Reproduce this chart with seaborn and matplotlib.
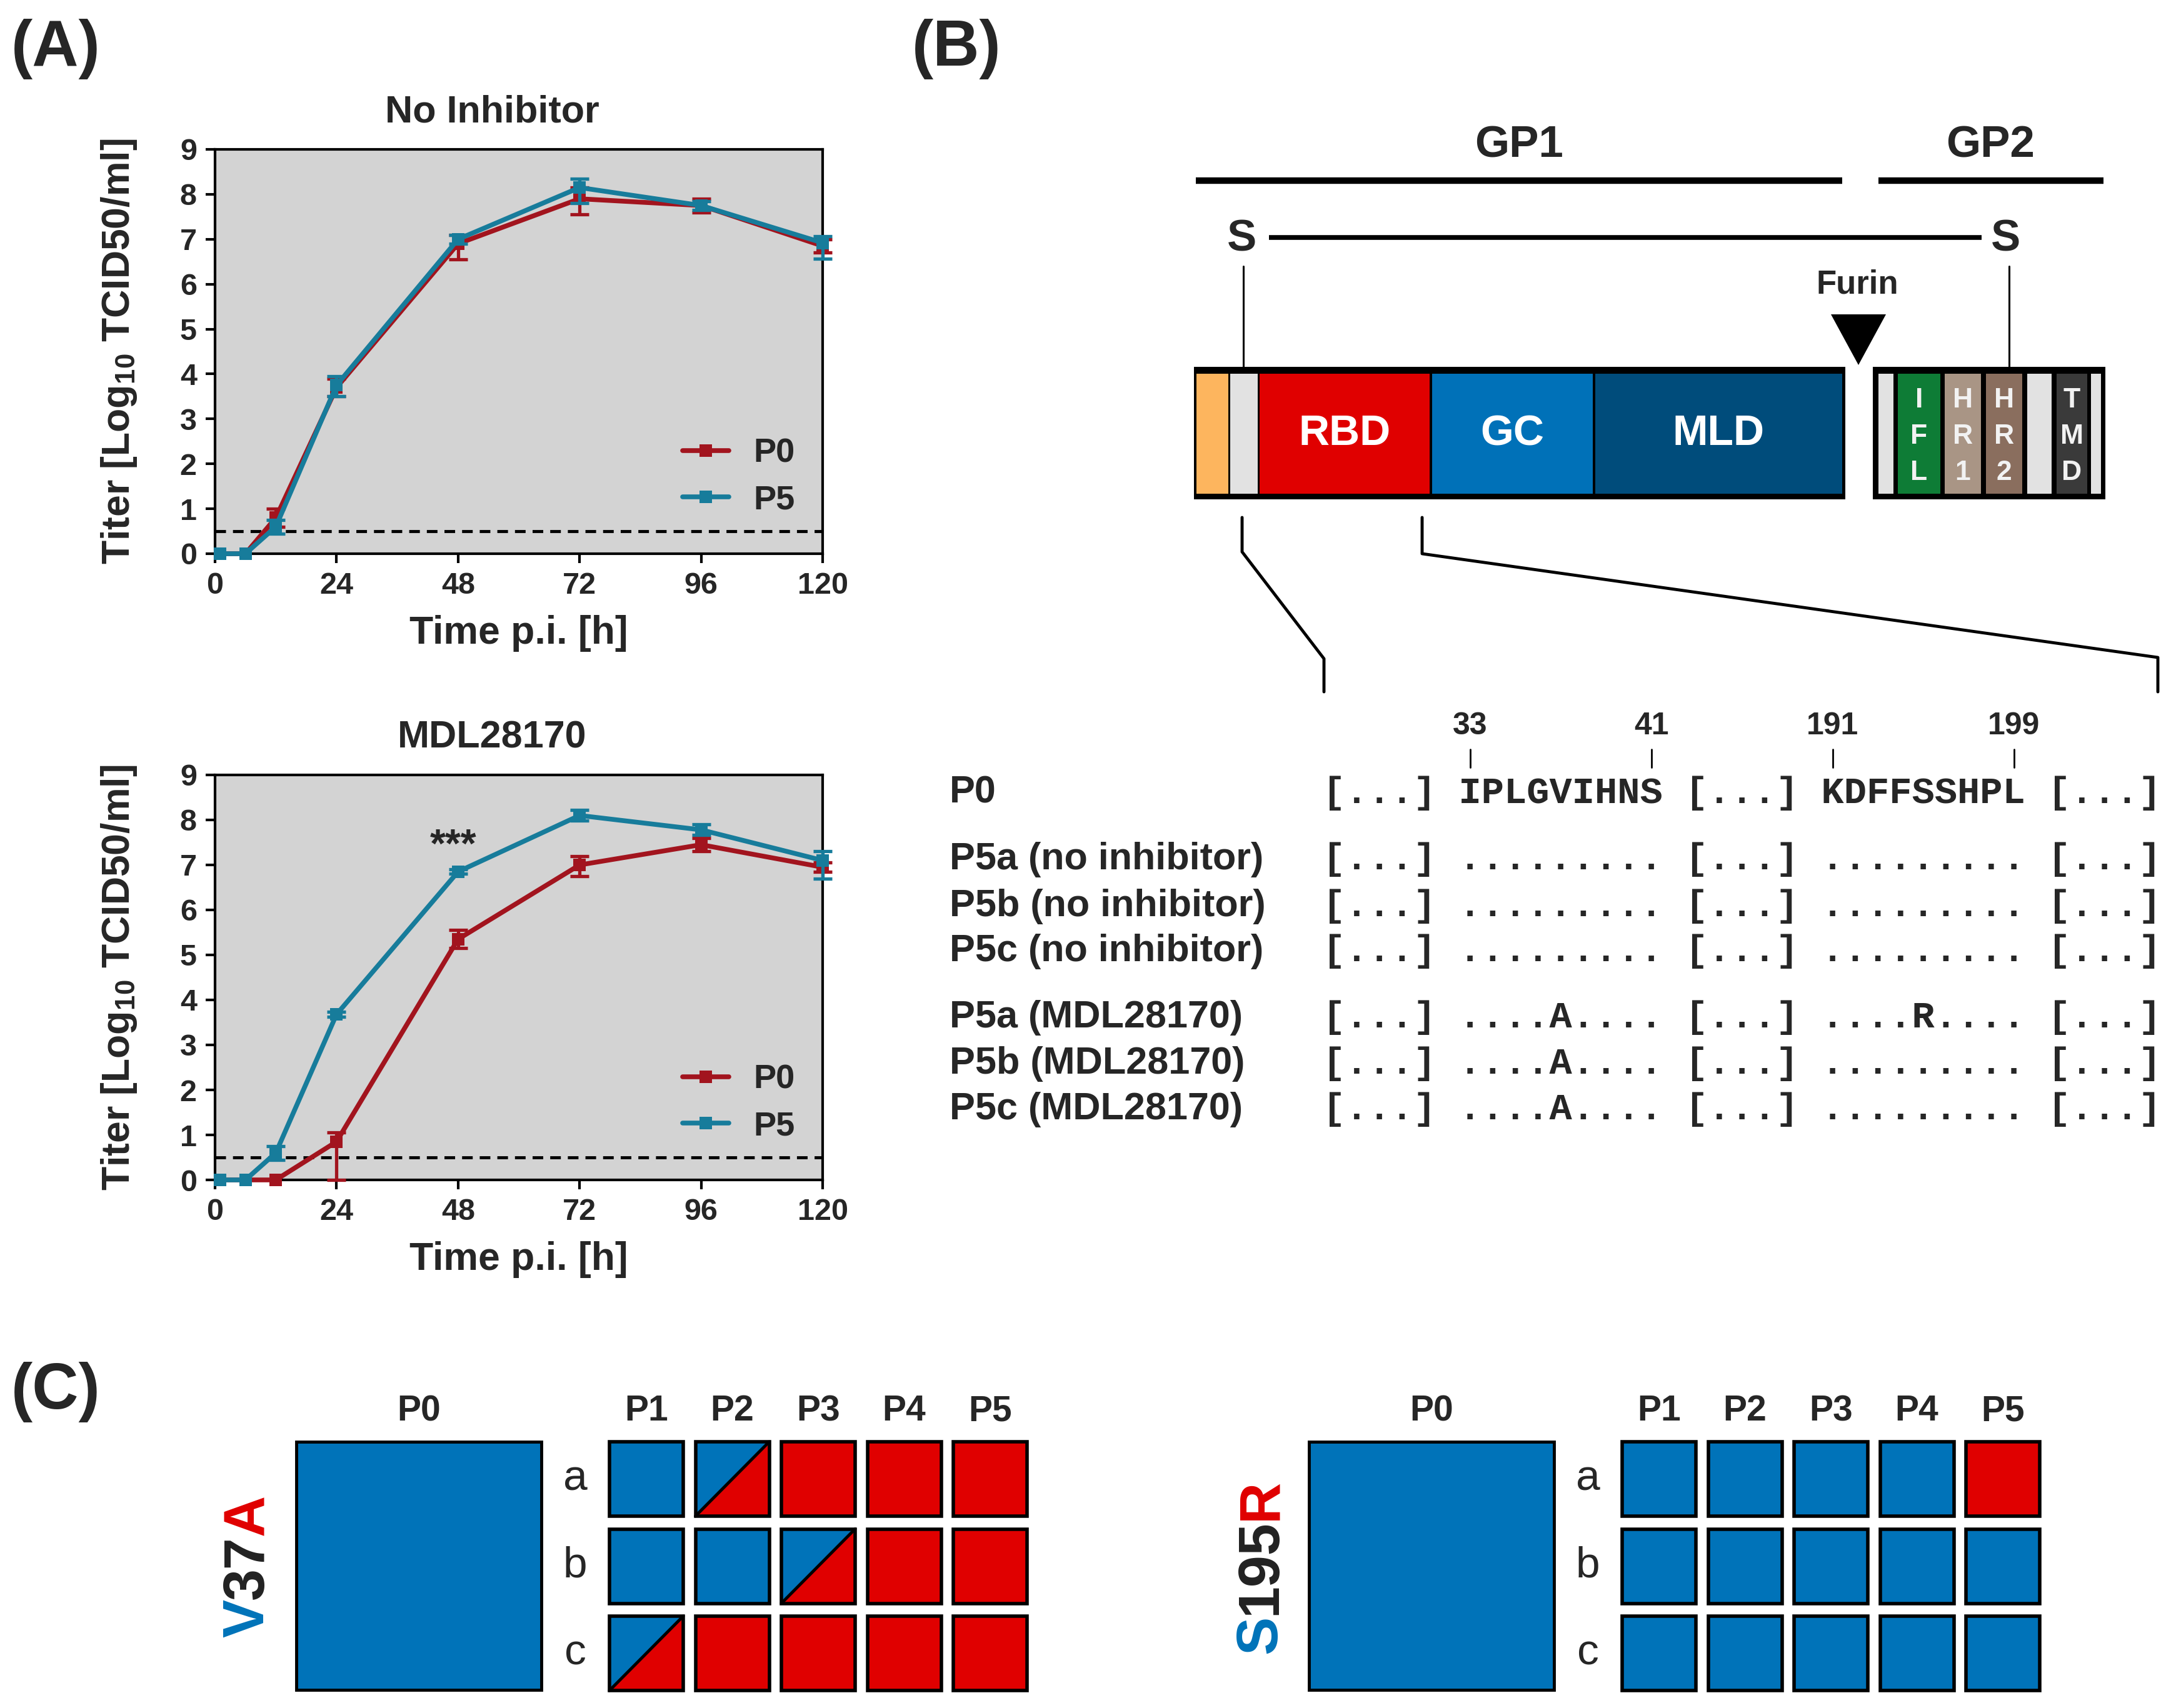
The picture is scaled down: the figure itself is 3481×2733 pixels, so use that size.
import numpy as np
import pandas as pd
import matplotlib
matplotlib.use("Agg")
import matplotlib.pyplot as plt
from matplotlib.patches import Rectangle, Polygon
from matplotlib.lines import Line2D
import seaborn as sns

# ======================= DATA =======================
time_hpi = [1, 6, 12, 24, 48, 72, 96, 120]
x_ticks = [0, 24, 48, 72, 96, 120]
y_ticks = [0, 1, 2, 3, 4, 5, 6, 7, 8, 9]
detection_limit = 0.5

# No inhibitor
noinh_p0_mean = [0, 0, 0.80, 3.70, 6.90, 7.90, 7.75, 6.85]
noinh_p0_lo = [0, 0, 0.20, 0.20, 0.35, 0.35, 0.15, 0.15]
noinh_p0_hi = [0, 0, 0.20, 0.20, 0.20, 0.25, 0.15, 0.15]
noinh_p5_mean = [0, 0, 0.60, 3.75, 7.00, 8.15, 7.75, 6.92]
noinh_p5_lo = [0, 0, 0.15, 0.25, 0.10, 0.35, 0.10, 0.35]
noinh_p5_hi = [0, 0, 0.15, 0.20, 0.10, 0.20, 0.10, 0.15]

# MDL28170
mdl_p0_mean = [0, 0, 0, 0.85, 5.35, 7.00, 7.45, 6.95]
mdl_p0_lo = [0, 0, 0, 0.85, 0.20, 0.25, 0.15, 0.10]
mdl_p0_hi = [0, 0, 0, 0.20, 0.20, 0.20, 0.15, 0.10]
mdl_p5_mean = [0, 0, 0.60, 3.68, 6.85, 8.10, 7.78, 7.10]
mdl_p5_lo = [0, 0, 0.15, 0.05, 0.05, 0.12, 0.12, 0.40]
mdl_p5_hi = [0, 0, 0.15, 0.05, 0.05, 0.12, 0.12, 0.20]
significance_time = 48
significance_label = "***"

# Panel B: alignment
seq_labels = ["P0", "P5a (no inhibitor)", "P5b (no inhibitor)", "P5c (no inhibitor)",
              "P5a (MDL28170)", "P5b (MDL28170)", "P5c (MDL28170)"]
seq_rows = ["[...] IPLGVIHNS [...] KDFFSSHPL [...]",
            "[...] ......... [...] ......... [...]",
            "[...] ......... [...] ......... [...]",
            "[...] ......... [...] ......... [...]",
            "[...] ....A.... [...] ....R.... [...]",
            "[...] ....A.... [...] ......... [...]",
            "[...] ....A.... [...] ......... [...]"]
segment_first_residue = [33, 191]
residue_numbers = [33, 41, 191, 199]

# Panel B: domain schematic (names and colours)
gp1_domain_names = ["", "", "RBD", "GC", "MLD"]
gp1_domain_colors = ["#FDB55E", "#E2E2E2", "#E00000", "#0071B8", "#004C7B"]
gp2_domain_names = ["", "IFL", "HR1", "HR2", "", "TMD", ""]
gp2_domain_colors = ["#E2E2E2", "#0E7C36", "#A99585", "#8A6E5E", "#E2E2E2", "#3A3A3A", "#E2E2E2"]

# Panel C: 0 = wild type, 1 = mixed, 2 = mutant
c_passages = ["P1", "P2", "P3", "P4", "P5"]
c_replicates = ["a", "b", "c"]
v37a_states = [[0, 1, 2, 2, 2],
               [0, 0, 1, 2, 2],
               [1, 2, 2, 2, 2]]
s195r_states = [[0, 0, 0, 0, 2],
                [0, 0, 0, 0, 0],
                [0, 0, 0, 0, 0]]

# ======================= STYLE =======================
sns.set_style("ticks")
plt.rcParams["font.family"] = ["Liberation Sans", "DejaVu Sans"]
plt.rcParams["font.weight"] = "bold"
plt.rcParams["mathtext.default"] = "regular"

RED_LINE = "#A2141E"
TEAL_LINE = "#177C9B"
BLUE = "#0073B9"
RED = "#E00000"
BG = "#D3D3D3"

W, H = 3481, 2733
fig = plt.figure(figsize=(W / 100, H / 100), dpi=100)
fig.patch.set_facecolor("white")


def fig_axes(x0, y0, x1, y1):
    return fig.add_axes([x0 / W, 1 - y1 / H, (x1 - x0) / W, (y1 - y0) / H])


# ---------------- Panel A ----------------
def growth_panel(ax, title, p0, p5, star=False):
    ax.set_facecolor(BG)
    rows = []
    for name, (mean, lo, hi) in (("P0", p0), ("P5", p5)):
        for t, m in zip(time_hpi, mean):
            rows.append({"time": t, "titer": m, "passage": name})
    df = pd.DataFrame(rows)
    sns.lineplot(data=df, x="time", y="titer", hue="passage",
                 palette={"P0": RED_LINE, "P5": TEAL_LINE},
                 marker="s", markersize=14, markeredgewidth=0, linewidth=5.5,
                 errorbar=None, legend=False, ax=ax)
    for i, ln in enumerate(ax.lines):
        ln.set_clip_on(False)
        ln.set_zorder(3 + 2 * i)
    for k, (mean, lo, hi) in enumerate((p0, p5)):
        col = RED_LINE if k == 0 else TEAL_LINE
        idx = [i for i in range(len(time_hpi)) if lo[i] + hi[i] > 0]
        ax.errorbar([time_hpi[i] for i in idx], [mean[i] for i in idx],
                    yerr=[[lo[i] for i in idx], [hi[i] for i in idx]],
                    fmt="none", ecolor=col, elinewidth=3.8, capsize=11,
                    capthick=3.8, zorder=3.5 + 2 * k, clip_on=False)
    ax.axhline(detection_limit, color="black", lw=3.5, ls=(0, (3.5, 2.3)), zorder=2)
    ax.set_xlim(0, 120)
    ax.set_ylim(0, 9)
    ax.set_xticks(x_ticks)
    ax.set_yticks(y_ticks)
    ax.tick_params(axis="both", direction="out", length=11, width=3,
                   labelsize=35, pad=10, color="black")
    for lbl in ax.get_xticklabels() + ax.get_yticklabels():
        lbl.set_fontweight("bold")
    for sp in ax.spines.values():
        sp.set_visible(True)
        sp.set_linewidth(3)
        sp.set_color("black")
    ax.set_xlabel("Time p.i. [h]", fontsize=45, fontweight="bold")
    ax.set_ylabel("Titer [Log$_{10}$ TCID50/ml]", fontsize=45, fontweight="bold")
    ax.xaxis.set_label_coords(0.5, -0.152)
    ax.yaxis.set_label_coords(-0.125, 0.5)
    ax.set_title(title, fontsize=44, fontweight="bold", x=0.456, pad=31)
    handles = [Line2D([0], [0], color=RED_LINE, lw=5.5, marker="s", ms=14, mew=0),
               Line2D([0], [0], color=TEAL_LINE, lw=5.5, marker="s", ms=14, mew=0)]
    ax.legend(handles, ["P0", "P5"], loc="center right", bbox_to_anchor=(0.954, 0.19),
              frameon=False, prop={"size": 39, "weight": "bold"}, handlelength=1.36,
              handletextpad=0.72, labelspacing=0.45, borderpad=0, borderaxespad=0)
    if star:
        i = time_hpi.index(significance_time)
        ax.text(significance_time - 1, p5[0][i] + 0.55, significance_label, ha="center",
                va="center", fontsize=46, fontweight="bold")


ax1 = fig_axes(344, 239, 1316, 886)
growth_panel(ax1, "No Inhibitor",
             (noinh_p0_mean, noinh_p0_lo, noinh_p0_hi),
             (noinh_p5_mean, noinh_p5_lo, noinh_p5_hi))
ax2 = fig_axes(344, 1240, 1316, 1888)
growth_panel(ax2, "MDL28170",
             (mdl_p0_mean, mdl_p0_lo, mdl_p0_hi),
             (mdl_p5_mean, mdl_p5_lo, mdl_p5_hi), star=True)

# ---------------- overlay for B and C ----------------
ov = fig.add_axes([0, 0, 1, 1], zorder=-1)
ov.set_xlim(0, W)
ov.set_ylim(H, 0)
ov.axis("off")

# panel labels
for lab, x, y in (("(A)", 18, 78), ("(B)", 1459, 78), ("(C)", 18, 2228)):
    ov.text(x, y, lab, fontsize=74, fontweight="bold", ha="left", va="center")

# ---- Panel B schematic ----
gp1_box = (1910, 2952)
gp2_box = (2996, 3368)
box_top, box_bot = 587, 799
in_top, in_bot = 598, 790
gp1_edges = [(1914, 1965), (1968, 2012), (2015, 2287), (2291, 2548), (2552, 2947)]
gp2_edges = [(3005, 3029), (3036, 3104), (3111, 3169), (3177, 3235), (3243, 3282),
             (3290, 3339), (3345, 3361)]

ov.add_patch(Rectangle((gp1_box[0], box_top), gp1_box[1] - gp1_box[0], box_bot - box_top,
                       fc="black", ec="none"))
ov.add_patch(Rectangle((gp2_box[0], box_top), gp2_box[1] - gp2_box[0], box_bot - box_top,
                       fc="black", ec="none"))
for (a, b), col, name in zip(gp1_edges, gp1_domain_colors, gp1_domain_names):
    ov.add_patch(Rectangle((a, in_top), b - a, in_bot - in_top, fc=col, ec="none"))
    if name:
        ov.text((a + b) / 2, (in_top + in_bot) / 2, name, color="white", fontsize=49,
                fontweight="bold", ha="center", va="center")
for (a, b), col, name in zip(gp2_edges, gp2_domain_colors, gp2_domain_names):
    ov.add_patch(Rectangle((a, in_top), b - a, in_bot - in_top, fc=col, ec="none"))
    for j, ch in enumerate(name):
        ov.text((a + b) / 2, 640 + 58 * j, ch, color="#F2F2F2", fontsize=32,
                fontweight="bold", ha="center", va="center")

# GP1 / GP2 bars
ov.plot([1913, 2947], [289, 289], color="black", lw=7.5, solid_capstyle="butt")
ov.plot([3005, 3365], [289, 289], color="black", lw=7.5, solid_capstyle="butt")
ov.text(2430, 233, "GP1", fontsize=51, fontweight="bold", ha="center", va="center")
ov.text(3184, 233, "GP2", fontsize=51, fontweight="bold", ha="center", va="center")
# disulfide
ov.text(1987, 383, "S", fontsize=51, fontweight="bold", ha="center", va="center")
ov.text(3209, 383, "S", fontsize=51, fontweight="bold", ha="center", va="center")
ov.plot([2030, 3170], [380, 380], color="black", lw=5.5, solid_capstyle="butt")
ov.plot([1989, 1989], [426, 587], color="black", lw=2.2)
ov.plot([3214, 3214], [426, 587], color="black", lw=2.2)
# furin
ov.text(2971, 455, "Furin", fontsize=38, fontweight="bold", ha="center", va="center")
ov.add_patch(Polygon([(2929, 503), (3017, 503), (2973, 584)], closed=True, fc="black", ec="none"))
# connectors
ov.plot([1987, 1987, 2118, 2118], [828, 883, 1054, 1107], color="black", lw=3.5)
ov.plot([2275, 2275, 3452, 3452], [828, 886, 1052, 1107], color="black", lw=3.5)

# ---- Panel B alignment ----
seq_fs = 43.5
pitch = 0.6 * seq_fs * 100 / 72
seq_x = 2116
row_y = [1269, 1375, 1450, 1522, 1628, 1702, 1775]
for lab, s, y in zip(seq_labels, seq_rows, row_y):
    ov.text(1519, y, lab, fontsize=44, fontweight="bold", ha="left", va="center")
    ov.text(seq_x, y, s, fontsize=seq_fs, fontweight="bold", family="Liberation Mono",
            ha="left", va="center")
seg_starts = [seq_rows[0].index("IPLGVIHNS"), seq_rows[0].index("KDFFSSHPL")]
for num in residue_numbers:
    seg = 0 if num < segment_first_residue[1] else 1
    idx = seg_starts[seg] + num - segment_first_residue[seg]
    cx = seq_x + (idx + 0.5) * pitch
    ov.text(cx, 1162, str(num), fontsize=36, fontweight="bold", ha="center", va="center")
    ov.plot([cx, cx], [1199, 1228], color="black", lw=2)

# ---- Panel C ----
big_w, big_h = 392, 397
grid_top = 2307
cell_w, cell_h = 118, 119
pitch_x, pitch_y = 137.5, 139.5
grid_dx = 501
header_y = 2258


def rotated_multicolor(x, yc, parts, fs):
    renderer = fig.canvas.get_renderer()
    widths = []
    for txt, _ in parts:
        t = ov.text(0, 0, txt, fontsize=fs, fontweight="bold")
        widths.append(t.get_window_extent(renderer=renderer).width)
        t.remove()
    total = sum(widths)
    ybot = yc + total / 2
    cum = 0
    for (txt, col), w in zip(parts, widths):
        ov.text(x, ybot - cum - w / 2, txt, rotation=90, ha="center", va="center",
                color=col, fontsize=fs, fontweight="bold")
        cum += w


def mutation_grid(x0, label_parts, states):
    ov.add_patch(Rectangle((x0, grid_top), big_w, big_h, fc=BLUE, ec="black", lw=3.5))
    ov.text(x0 + big_w / 2, header_y, "P0", fontsize=41, fontweight="bold",
            ha="center", va="center")
    rotated_multicolor(x0 - 77, grid_top + big_h / 2, label_parts, 66)
    gx = x0 + grid_dx
    for c, p in enumerate(c_passages):
        ov.text(gx + c * pitch_x + cell_w / 2, header_y, p, fontsize=41, fontweight="bold",
                ha="center", va="center")
    for r, rep in enumerate(c_replicates):
        cy = grid_top + r * pitch_y
        ov.text(x0 + big_w + 54, cy + cell_h / 2, rep, fontsize=50, fontweight="normal",
                ha="center", va="center")
        for c in range(len(c_passages)):
            s = states[r][c]
            cx = gx + c * pitch_x
            if s == 1:
                ov.add_patch(Polygon([(cx, cy), (cx + cell_w, cy), (cx, cy + cell_h)],
                                     closed=True, fc=BLUE, ec="none"))
                ov.add_patch(Polygon([(cx, cy + cell_h), (cx + cell_w, cy), (cx + cell_w, cy + cell_h)],
                                     closed=True, fc=RED, ec="none"))
                ov.plot([cx, cx + cell_w], [cy + cell_h, cy], color="black", lw=3.5)
                ov.add_patch(Rectangle((cx, cy), cell_w, cell_h, fc="none", ec="black", lw=4))
            else:
                ov.add_patch(Rectangle((cx, cy), cell_w, cell_h, fc=BLUE if s == 0 else RED,
                                       ec="black", lw=4))


mutation_grid(474, [("V", BLUE), ("37", "#222222"), ("A", RED)], v37a_states)
mutation_grid(2094, [("S", BLUE), ("195", "#222222"), ("R", RED)], s195r_states)

fig.savefig("out.png", dpi=100)
